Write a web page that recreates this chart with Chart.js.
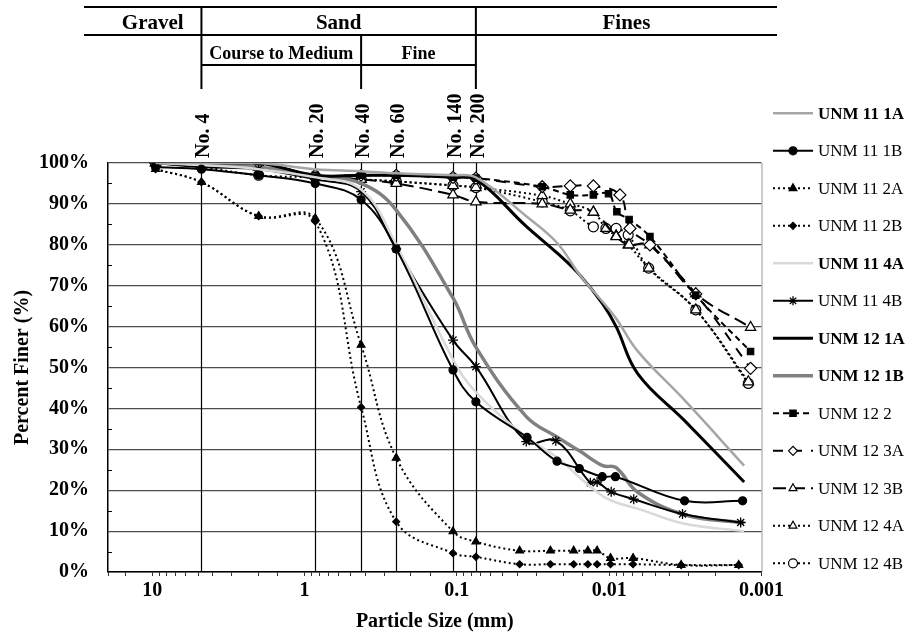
<!DOCTYPE html>
<html>
<head>
<meta charset="utf-8">
<script src="https://cdn.jsdelivr.net/npm/chart.js@4.4.0/dist/chart.umd.min.js"></script>
<style>
  html, body { margin: 0; padding: 0; background: #fff; }
  #wrap { width: 910px; height: 639px; position: relative; }
</style>
</head>
<body>
<div id="wrap"><canvas id="grain-chart" width="910" height="639"></canvas></div>
<script>
// Sieve sizes (mm) shared by all samples
const sieveSizes = [9.5, 4.75, 2.0, 0.85, 0.425, 0.25, 0.106, 0.075];
// Hydrometer sizes used for the smooth (no marker) curves
const hydroSizesSmooth = [0.035, 0.022, 0.0155, 0.011, 0.009, 0.0065, 0.0032, 0.0013];

// Percent finer per sample
const unm111A_pct = [100, 100, 100, 98.5, 98, 97.5, 97, 96.5, 87, 80.5, 72.5, 66, 62, 54, 42, 26];
const unm111B_hydro = [0.0346, 0.022, 0.0157, 0.0111, 0.0091, 0.0032, 0.00133];
const unm111B_pct = [99, 98.5, 97, 95, 91, 79, 49.4, 41.6, 32.9, 27.1, 25.3, 23.3, 23.3, 17.4, 17.4];
const unm112_hydro = [0.0387, 0.0243, 0.0171, 0.0138, 0.012, 0.0098, 0.00697, 0.00337, 0.00141];
const unm112A_pct = [98.5, 95.3, 87, 86.5, 55.5, 27.9, 9.9, 7.4, 5.2, 5.2, 5.2, 5.2, 5.2, 3.4, 3.4, 1.7, 1.7];
const unm112B_pct = [98.5, 95.3, 87, 85.7, 40.3, 12.3, 4.6, 3.7, 1.9, 1.9, 1.9, 1.9, 1.9, 1.9, 1.9, 1.7, 1.7];
const unm114A_pct = [100, 99.5, 98.5, 96.5, 93.5, 80, 52, 44, 33, 28, 23, 18.5, 17, 15.5, 11.8, 10];
const unm114B_hydro = [0.035, 0.0224, 0.0133, 0.012, 0.0097, 0.0069, 0.0033, 0.00137];
const unm114B_pct = [100, 99, 98.5, 96, 93, 79, 56.7, 50.2, 31.9, 32.1, 21.8, 22, 19.6, 17.8, 14.2, 12.1];
const unm121A_pct = [100, 100, 100, 97, 97, 97, 96.5, 96, 84.5, 78, 72.5, 65.5, 60, 48.5, 37, 22];
const unm121B_pct = [100, 100, 99, 97, 95, 88.5, 67, 55, 38, 33, 29.5, 26, 25.5, 19.5, 14, 12];
const unm122_hydro = [0.0275, 0.018, 0.0127, 0.0101, 0.0089, 0.0074, 0.0054, 0.0027, 0.00118];
const unm122_pct = [100, 100, 100, 97, 97, 97, 96.5, 96.3, 94.2, 92.2, 92.2, 92.5, 88.1, 86.2, 82, 67.7, 53.9];
const unm123A_hydro = [0.0275, 0.018, 0.0127, 0.0085, 0.0073, 0.0054, 0.0027, 0.00118];
const unm123A_pct = [100, 100, 100, 97, 97, 97, 96.5, 96.3, 94.2, 94.4, 94.4, 92.2, 84, 80, 68, 49.8];
const unm123B_hydro = [0.0275, 0.018, 0.0127, 0.009, 0.0074, 0.0054, 0.0027, 0.00118];
const unm123B_pct = [100, 100, 100, 97, 96, 95, 92.2, 90.5, 90, 88.5, 88, 82, 80, 80, 68, 59.8];
const unm124_hydro = [0.0275, 0.018, 0.0127, 0.0105, 0.009, 0.0075, 0.0055, 0.0027, 0.00122];
const unm124A_pct = [100, 100, 99, 97, 96, 95.5, 94.5, 94, 92, 90, 88, 84, 82.2, 80, 74.3, 64.1, 46.5];
const unm124B_pct = [100, 99, 97, 96.5, 96, 95.5, 94.5, 94, 90.5, 88.3, 84.4, 84, 84, 82.4, 74.3, 64.1, 46.1];

// Sieve reference lines
const sieveLineSizes = [4.75, 0.85, 0.425, 0.25, 0.106, 0.075];
const sieveLineLabels = ['No. 4', 'No. 20', 'No. 40', 'No. 60', 'No. 140', 'No. 200'];

// Axis tick labels
const xTickValues = [10, 1, 0.1, 0.01, 0.001];
const xTickLabels = ['10', '1', '0.1', '0.01', '0.001'];

const serif = "'Liberation Serif', 'Times New Roman', serif";

function toPoints(sizes, pct) {
    return sizes.map((s, i) => ({ x: s, y: pct[i] }));
}

function makeSeries(label, sizes, pct, style) {
    return Object.assign({
        label: label,
        data: toPoints(sizes, pct),
        showLine: true,
        tension: 0.4,
        borderColor: '#000',
        backgroundColor: '#000',
        borderWidth: 2,
        pointRadius: 0,
        pointBorderWidth: 1.2,
        pointBorderColor: '#000',
        boldLabel: false
    }, style);
}

const withSieve = h => sieveSizes.concat(h);

const datasets = [
    makeSeries('UNM 11 1A', withSieve(hydroSizesSmooth), unm111A_pct,
        { borderColor: '#a6a6a6', borderWidth: 2.5, boldLabel: true }),
    makeSeries('UNM 11 1B', withSieve(unm111B_hydro), unm111B_pct,
        { pointStyle: 'circle', pointRadius: 4 }),
    makeSeries('UNM 11 2A', withSieve(unm112_hydro), unm112A_pct,
        { borderDash: [2, 3], pointStyle: 'triangle', pointRadius: 4.5 }),
    makeSeries('UNM 11 2B', withSieve(unm112_hydro), unm112B_pct,
        { borderDash: [2, 3], pointStyle: 'rectRot', pointRadius: 3.5 }),
    makeSeries('UNM 11 4A', withSieve(hydroSizesSmooth), unm114A_pct,
        { borderColor: '#d9d9d9', borderWidth: 2.5, boldLabel: true }),
    makeSeries('UNM 11 4B', withSieve(unm114B_hydro), unm114B_pct,
        { pointStyle: 'star', pointRadius: 5, pointBorderWidth: 1.3 }),
    makeSeries('UNM 12 1A', withSieve(hydroSizesSmooth), unm121A_pct,
        { borderWidth: 3, boldLabel: true }),
    makeSeries('UNM 12 1B', withSieve(hydroSizesSmooth), unm121B_pct,
        { borderColor: '#808080', borderWidth: 3.5, boldLabel: true }),
    makeSeries('UNM 12 2', withSieve(unm122_hydro), unm122_pct,
        { borderDash: [6, 4], pointStyle: 'rect', pointRadius: 4.5 }),
    makeSeries('UNM 12 3A', withSieve(unm123A_hydro), unm123A_pct,
        { borderDash: [10, 9], pointStyle: 'rectRot', pointRadius: 6, backgroundColor: '#fff' }),
    makeSeries('UNM 12 3B', withSieve(unm123B_hydro), unm123B_pct,
        { borderDash: [13, 6], pointStyle: 'triangle', pointRadius: 6, backgroundColor: '#fff' }),
    makeSeries('UNM 12 4A', withSieve(unm124_hydro), unm124A_pct,
        { borderDash: [2, 3], pointStyle: 'triangle', pointRadius: 6, backgroundColor: '#fff' }),
    makeSeries('UNM 12 4B', withSieve(unm124_hydro), unm124B_pct,
        { borderDash: [2, 3], pointStyle: 'circle', pointRadius: 5, backgroundColor: '#fff' })
];

// Plugin: header table, sieve lines, minor ticks, right border and legend
const decorations = {
    id: 'decorations',
    beforeDatasetsDraw(chart) {
        const { ctx, chartArea, scales } = chart;
        ctx.save();
        // sieve lines inside the plot
        ctx.strokeStyle = '#000';
        ctx.lineWidth = 1.2;
        sieveLineSizes.forEach(s => {
            const px = Math.round(scales.x.getPixelForValue(s)) + 0.5;
            ctx.beginPath();
            ctx.moveTo(px, chartArea.top);
            ctx.lineTo(px, chartArea.bottom);
            ctx.stroke();
        });
        // minor ticks on the y axis (inside)
        ctx.lineWidth = 1;
        for (let v = 5; v < 100; v += 10) {
            const py = Math.round(scales.y.getPixelForValue(v)) + 0.5;
            ctx.beginPath();
            ctx.moveTo(chartArea.left, py);
            ctx.lineTo(chartArea.left + 4, py);
            ctx.stroke();
        }
        // right border
        ctx.strokeStyle = '#999';
        ctx.beginPath();
        ctx.moveTo(chartArea.right + 0.5, chartArea.top);
        ctx.lineTo(chartArea.right + 0.5, chartArea.bottom);
        ctx.stroke();
        ctx.restore();
    },
    afterDraw(chart) {
        const { ctx, chartArea, scales } = chart;
        ctx.save();

        // rotated sieve labels
        ctx.fillStyle = '#000';
        ctx.font = 'bold 20px ' + serif;
        ctx.textAlign = 'left';
        ctx.textBaseline = 'alphabetic';
        sieveLineSizes.forEach((s, i) => {
            const px = scales.x.getPixelForValue(s);
            ctx.save();
            ctx.translate(px + 8, chartArea.top - 5);
            ctx.rotate(-Math.PI / 2);
            ctx.fillText(sieveLineLabels[i], 0, 0);
            ctx.restore();
        });

        // header table
        const xNo4 = scales.x.getPixelForValue(4.75);
        const xNo40 = scales.x.getPixelForValue(0.425);
        const xNo200 = scales.x.getPixelForValue(0.075);
        const tableLeft = 84, tableRight = 777;
        ctx.strokeStyle = '#000';
        ctx.lineWidth = 2;
        ctx.beginPath();
        ctx.moveTo(tableLeft, 7); ctx.lineTo(tableRight, 7);
        ctx.moveTo(tableLeft, 35); ctx.lineTo(tableRight, 35);
        ctx.moveTo(xNo4, 65); ctx.lineTo(xNo200, 65);
        ctx.moveTo(xNo4, 7); ctx.lineTo(xNo4, 89);
        ctx.moveTo(xNo200, 7); ctx.lineTo(xNo200, 89);
        ctx.moveTo(xNo40, 35); ctx.lineTo(xNo40, 89);
        ctx.stroke();

        ctx.textAlign = 'center';
        ctx.font = 'bold 21px ' + serif;
        ctx.fillText('Gravel', (tableLeft + xNo4) / 2 + 10, 29);
        ctx.fillText('Sand', (xNo4 + xNo200) / 2, 29);
        ctx.fillText('Fines', (xNo200 + tableRight) / 2, 29);
        ctx.font = 'bold 18px ' + serif;
        ctx.fillText('Course to Medium', (xNo4 + xNo40) / 2, 59);
        ctx.fillText('Fine', (xNo40 + xNo200) / 2, 59);

        // legend
        const legX0 = 773, legX1 = 813, legText = 818;
        chart.data.datasets.forEach((ds, i) => {
            const y = 113.3 + i * 37.5;
            ctx.save();
            ctx.strokeStyle = ds.borderColor;
            ctx.lineWidth = ds.borderWidth;
            ctx.setLineDash(ds.borderDash || []);
            ctx.beginPath();
            ctx.moveTo(legX0, y);
            ctx.lineTo(legX1, y);
            ctx.stroke();
            ctx.setLineDash([]);
            if (ds.pointRadius > 0) {
                ctx.fillStyle = ds.backgroundColor;
                ctx.strokeStyle = ds.pointBorderColor;
                ctx.lineWidth = ds.pointBorderWidth;
                Chart.helpers.drawPoint(ctx, {
                    pointStyle: ds.pointStyle,
                    radius: Math.min(ds.pointRadius, 4.5),
                    rotation: 0,
                    borderWidth: ds.pointBorderWidth
                }, (legX0 + legX1) / 2, y);
            }
            ctx.restore();
            ctx.fillStyle = '#000';
            ctx.textAlign = 'left';
            ctx.textBaseline = 'middle';
            ctx.font = (ds.boldLabel ? 'bold ' : '') + '17px ' + serif;
            ctx.fillText(ds.label, legText, y + 1);
        });
        ctx.restore();
    }
};

const ctx = document.getElementById('grain-chart').getContext('2d');
const chart = new Chart(ctx, {
    type: 'scatter',
    data: { datasets: datasets },
    plugins: [decorations],
    options: {
        responsive: false,
        devicePixelRatio: 1,
        animation: false,
        layout: { padding: { top: 163, right: 148.5, left: 0, bottom: 0 } },
        plugins: {
            legend: { display: false },
            tooltip: { enabled: false }
        },
        scales: {
            x: {
                type: 'logarithmic',
                reverse: true,
                min: 0.001,
                max: 19.5,
                afterFit: scale => { scale.height = 67; },
                grid: {
                    drawOnChartArea: false,
                    drawTicks: true,
                    tickLength: 4,
                    color: '#333'
                },
                border: { display: true, color: '#000', width: 1.5 },
                ticks: {
                    autoSkip: false,
                    maxRotation: 0,
                    padding: 3,
                    color: '#000',
                    font: { family: serif, size: 20, weight: 'bold' },
                    callback: value => {
                        const i = xTickValues.findIndex(t => Math.abs(t - value) / t < 1e-6);
                        return i >= 0 ? xTickLabels[i] : '';
                    }
                },
                title: {
                    display: true,
                    text: 'Particle Size (mm)',
                    color: '#000',
                    font: { family: serif, size: 20, weight: 'bold' },
                    padding: { top: 0, bottom: 5 }
                }
            },
            y: {
                min: 0,
                max: 100,
                afterFit: scale => { scale.width = 108; },
                grid: {
                    drawTicks: false,
                    lineWidth: 1.2,
                    color: c => (c.tick && c.tick.value % 10 === 0) ? '#4d4d4d' : 'rgba(0,0,0,0)'
                },
                border: { display: true, color: '#000', width: 1.5 },
                ticks: {
                    stepSize: 5,
                    padding: 19,
                    color: '#000',
                    font: { family: serif, size: 20, weight: 'bold' },
                    callback: v => (v % 10 === 0 ? v + '%' : '')
                },
                title: {
                    display: true,
                    text: 'Percent Finer (%)',
                    color: '#000',
                    font: { family: serif, size: 20, weight: 'bold' },
                    padding: { top: 11, bottom: 0 }
                }
            }
        }
    }
});
</script>
</body>
</html>
